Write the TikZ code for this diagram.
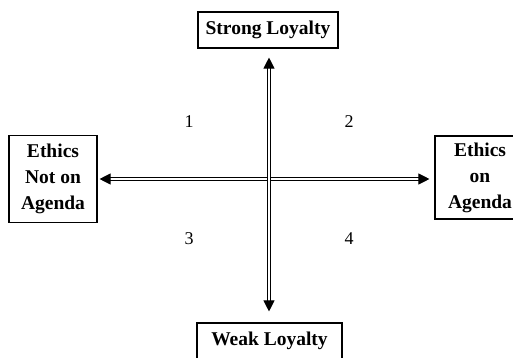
\documentclass[tikz,border=0pt]{standalone}
\usepackage{fontspec}
\setmainfont{Liberation Serif}
\usetikzlibrary{arrows.meta}
\begin{document}
\begin{tikzpicture}[x=1pt,y=-1pt,
  box/.style={draw,line width=1.1pt,align=center,inner sep=0pt,font=\fontsize{19.5}{26}\selectfont\bfseries},
  axis/.style={double,double distance=1.5pt,line width=1pt,
    {Triangle[width=11pt,length=11pt]}-{Triangle[width=11pt,length=11pt]}},
  quad/.style={font=\fontsize{18}{20}\selectfont}]
\useasboundingbox (0,0) rectangle (513,358);
\begin{scope}
\clip (0,0) rectangle (513,358);
% category boxes
\node[box,minimum width=140pt,minimum height=36pt] (strong) at (268,30) {Strong Loyalty};
\node[box,minimum width=145pt,minimum height=36pt] (weak) at (269.5,341) {Weak Loyalty};
\node[box,minimum width=88pt,minimum height=87pt] (noteth) at (53,179) {Ethics\\Not on\\Agenda};
\node[box,minimum width=90pt,minimum height=83pt] (eth) at (480,177.5) {Ethics\\on\\Agenda};
\end{scope}
\coordinate (c) at (269,179);
% axes
\draw[axis,shorten <=2pt,shorten >=5pt] (noteth.east |- c) -- (eth.west |- c);
\draw[axis,shorten <=9pt,shorten >=11pt] (strong.south -| c) -- (weak.north -| c);
% quadrant numbers
\node[quad] (q1) at (189,122) {1};
\node[quad] (q2) at (349,122) {2};
\node[quad] (q3) at (189,239) {3};
\node[quad] (q4) at (349,239) {4};
\end{tikzpicture}
\end{document}
